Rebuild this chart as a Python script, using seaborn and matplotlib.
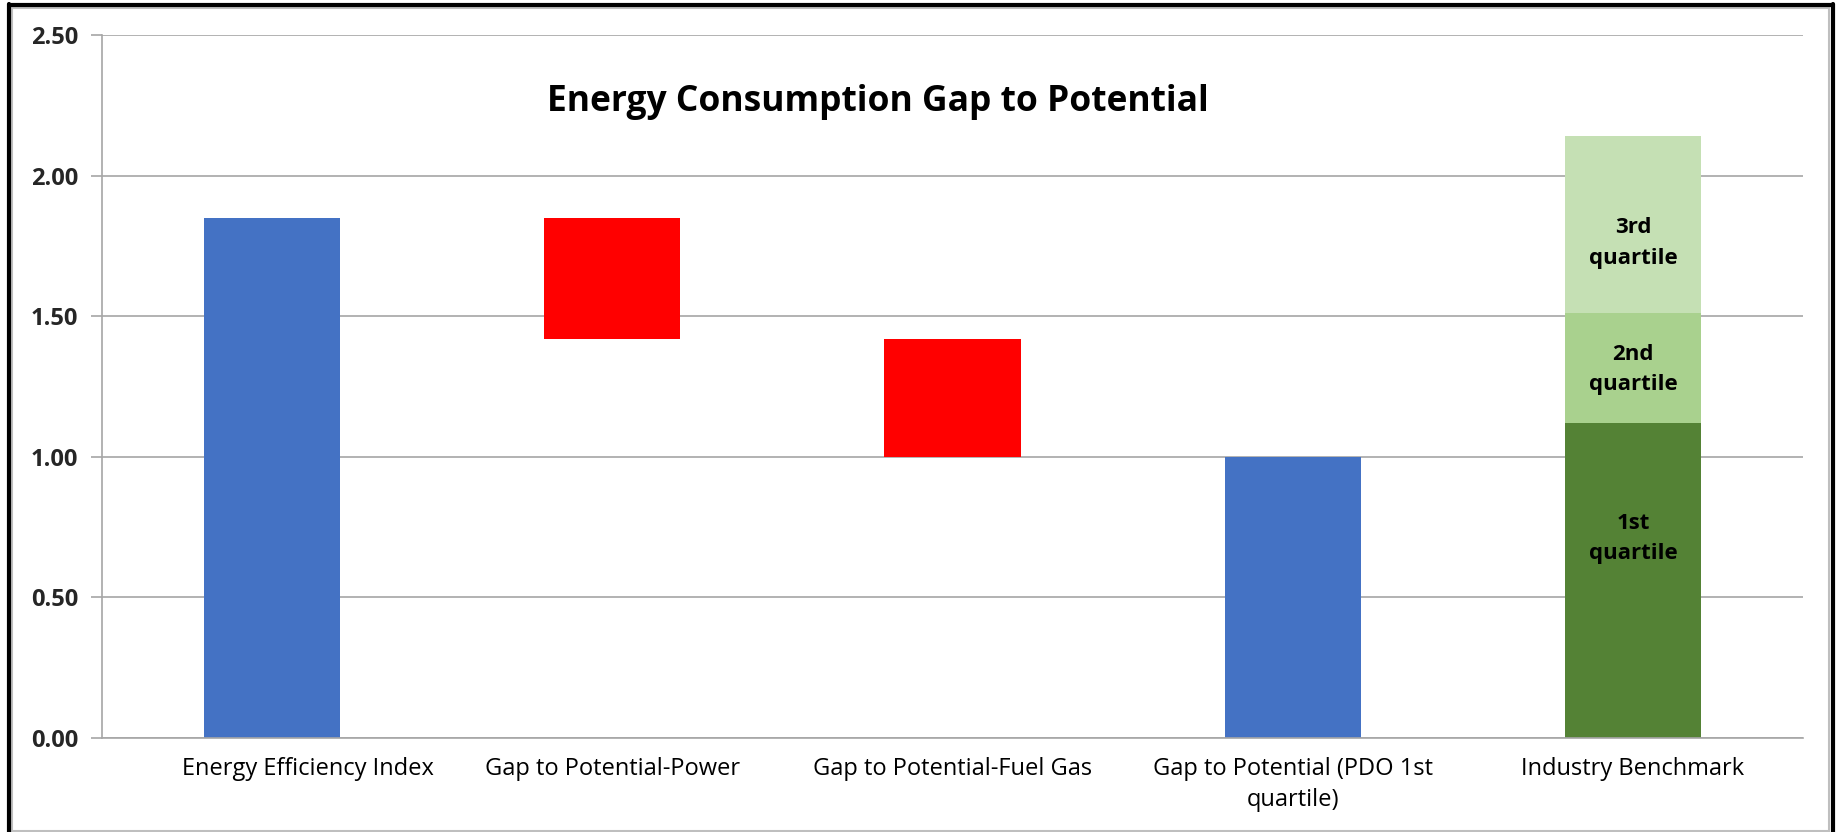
import pandas as pd
import numpy as np
import matplotlib.pyplot as plt
import matplotlib.transforms as mtransforms
import seaborn as sns
from matplotlib.lines import Line2D
from matplotlib.patches import Rectangle

categories = ["Energy Efficiency Index", "Gap to Potential-Power", "Gap to Potential-Fuel Gas",
              "Gap to Potential (PDO 1st\nquartile)", "Industry Benchmark"]

# waterfall levels
energy_efficiency_index = 1.85
after_power_gap = 1.42
after_fuel_gas_gap = 1.00
pdo_first_quartile = 1.00

# industry benchmark quartiles (stacked tops)
quartile_names = ["1st\nquartile", "2nd\nquartile", "3rd\nquartile"]
quartile_tops = [1.12, 1.51, 2.14]
quartile_label_y = [0.71, 1.31, 1.76]

blue = "#4472C4"
red = "#FF0000"
greens = ["#548235", "#A9D18E", "#C5E0B4"]
grid_grey = "#A6A6A6"

segments = pd.DataFrame({
    "category": categories[:4] + [categories[4]] * 3,
    "bottom": [0, after_power_gap, after_fuel_gas_gap, 0, 0, quartile_tops[0], quartile_tops[1]],
    "top": [energy_efficiency_index, energy_efficiency_index, after_power_gap, pdo_first_quartile] + quartile_tops,
    "color": [blue, red, red, blue] + greens,
})
segments["height"] = segments["top"] - segments["bottom"]

sns.set_style("white")
plt.rcParams["font.family"] = ["Open Sans", "DejaVu Sans"]

W, H = 1839, 832
fig = plt.figure(figsize=(W / 100, H / 100), dpi=100)
ax = fig.add_axes([102 / W, 1 - 738 / H, (1803 - 102) / W, (738 - 35) / H])

for row in segments.itertuples(index=False):
    sns.barplot(x=[row.category], y=[row.height], order=categories, bottom=row.bottom,
                color=row.color, saturation=1, width=0.4, errorbar=None, ax=ax, linewidth=0)

for name, y in zip(quartile_names, quartile_label_y):
    ax.text(4, y, name, ha="center", va="center", fontsize=16, fontweight="bold",
            color="black", linespacing=1.6)

ax.set_ylim(0, 2.5)
ax.set_xlim(-0.5, 4.5)
ax.set_yticks(np.arange(0, 2.51, 0.5))
ax.set_yticklabels([f"{v:.2f}" for v in np.arange(0, 2.51, 0.5)], fontsize=17, fontweight="bold")
ax.set_xticks(range(len(categories)))
ax.set_xticklabels(categories, fontsize=17, color="black", linespacing=1.35)
ax.set_xticks(np.arange(-0.5, 4.6, 1), minor=True)
ax.tick_params(axis="x", which="major", length=0, pad=14)
ax.tick_params(axis="x", which="minor", length=10, width=1.2, color=grid_grey, direction="out")
ax.tick_params(axis="y", length=8, width=1.2, color=grid_grey, direction="out", pad=9, left=True)
ax.set_xlabel("")
ax.set_ylabel("")

# first category label sits a bit right of its bar in the original
first = ax.get_xticklabels()[0]
first.set_transform(first.get_transform() + mtransforms.ScaledTranslation(0.36, 0, fig.dpi_scale_trans))

ax.yaxis.grid(True, color=grid_grey, linewidth=1.2)
ax.set_axisbelow(True)
for side in ["top", "right"]:
    ax.spines[side].set_visible(False)
for side in ["left", "bottom"]:
    ax.spines[side].set_color(grid_grey)
    ax.spines[side].set_linewidth(1.2)

ax.text(0.456, 0.905, "Energy Consumption Gap to Potential", transform=ax.transAxes,
        ha="center", va="center", fontsize=25.5, fontweight="bold", color="black")

# outer frame: black on left/top/right, light grey inner border
fig.add_artist(Rectangle((12 / W, 1 / H), (1829 - 12) / W, (824 - 1) / H, transform=fig.transFigure,
                         fill=False, edgecolor="#BFBFBF", linewidth=1.5))
fig.add_artist(Line2D([9 / W, 9 / W], [0, 1 - 4 / H], transform=fig.transFigure, color="black", linewidth=3))
fig.add_artist(Line2D([9 / W, 1833 / W], [1 - 5 / H, 1 - 5 / H], transform=fig.transFigure, color="black", linewidth=3))
fig.add_artist(Line2D([1833 / W, 1833 / W], [0, 1 - 4 / H], transform=fig.transFigure, color="black", linewidth=3))

fig.savefig("out.png", dpi=100)
